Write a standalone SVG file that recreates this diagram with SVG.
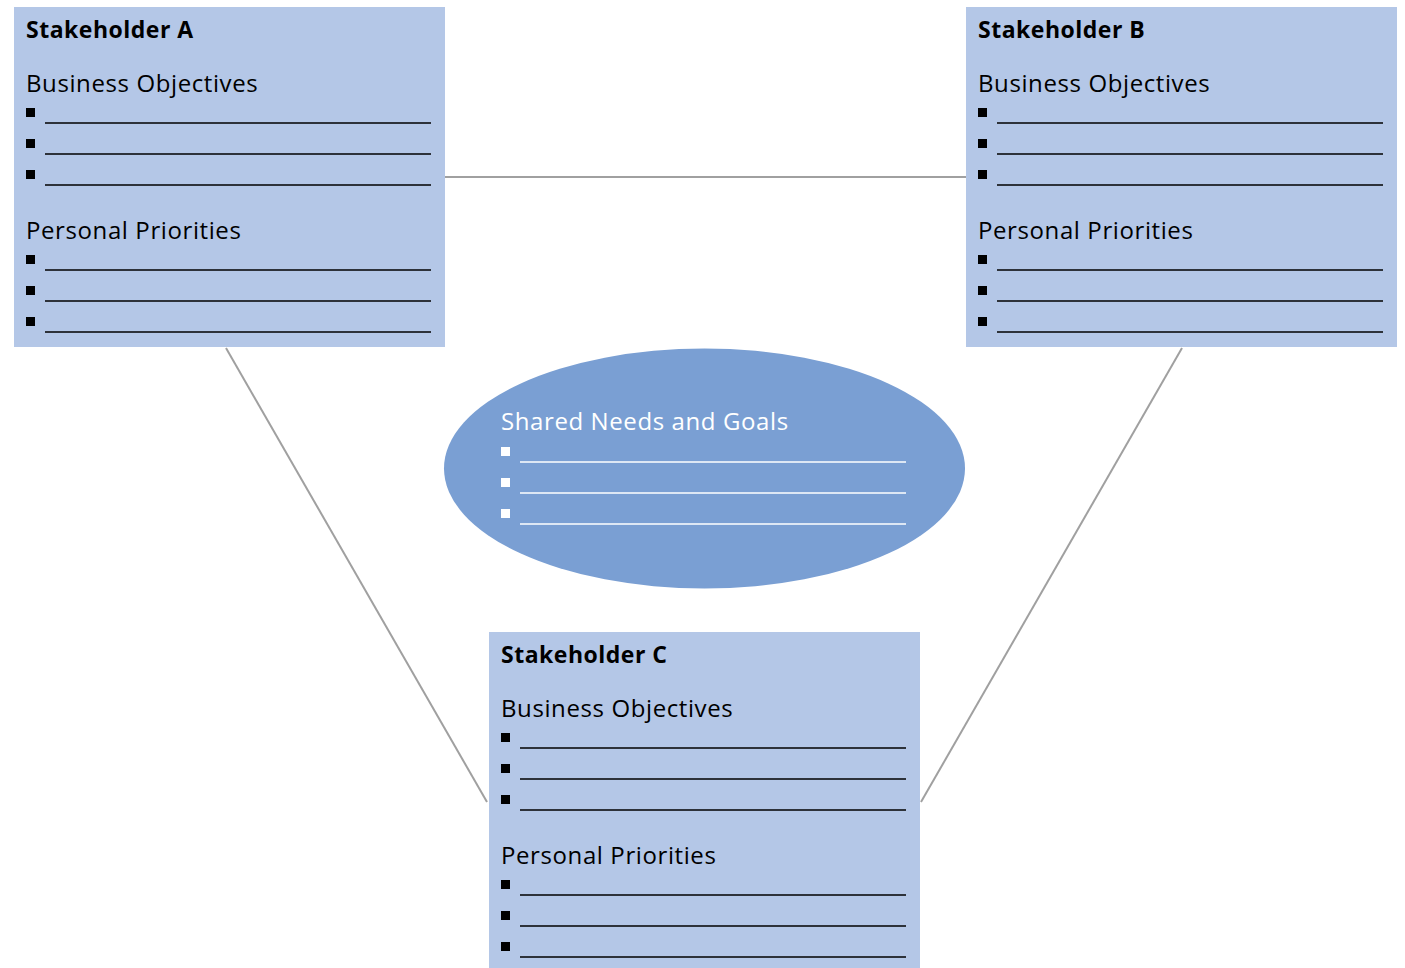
<svg xmlns="http://www.w3.org/2000/svg" xmlns:xlink="http://www.w3.org/1999/xlink" width="1405" height="968" viewBox="0 0 1405 968">
<style>
.box{fill:#B4C7E7}
.title{font-family:"Open Sans","Liberation Sans",sans-serif;font-weight:bold;font-size:23px;letter-spacing:0.5px;fill:#000}
.head{font-family:"Open Sans","Liberation Sans",sans-serif;font-size:24px;letter-spacing:0.6px;fill:#000}
.headw{font-family:"Open Sans","Liberation Sans",sans-serif;font-size:24px;letter-spacing:0.6px;fill:#fff}
.bl{fill:#000}
.ln{stroke:#000;stroke-width:1.3}
.blw{fill:#fff}
.lnw{stroke:#fff;stroke-width:1.3}
.conn{stroke:#A0A0A0;stroke-width:2;fill:none}
</style>
<defs>
<g id="list3">
<rect class="bl" x="0" y="0" width="9" height="9"/>
<rect class="bl" x="0" y="31" width="9" height="9"/>
<rect class="bl" x="0" y="62" width="9" height="9"/>
<line class="ln" x1="19" y1="15" x2="405" y2="15"/>
<line class="ln" x1="19" y1="46" x2="405" y2="46"/>
<line class="ln" x1="19" y1="77" x2="405" y2="77"/>
</g>
<g id="list3w">
<rect class="blw" x="0" y="0" width="9" height="9"/>
<rect class="blw" x="0" y="31" width="9" height="9"/>
<rect class="blw" x="0" y="62" width="9" height="9"/>
<line class="lnw" x1="19" y1="15" x2="405" y2="15"/>
<line class="lnw" x1="19" y1="46" x2="405" y2="46"/>
<line class="lnw" x1="19" y1="77" x2="405" y2="77"/>
</g>
</defs>
<g id="connectors">
<line class="conn" x1="445" y1="177" x2="966" y2="177"/>
<line class="conn" x1="226" y1="348" x2="487" y2="802"/>
<line class="conn" x1="1182" y1="348" x2="921" y2="802"/>
</g>
<g id="stakeholder-a">
<rect class="box" x="14" y="7" width="431" height="340"/>
<text class="title" x="26" y="38">Stakeholder A</text>
<text class="head" x="26" y="92">Business Objectives</text>
<use xlink:href="#list3" x="26" y="108"/>
<text class="head" x="26" y="239">Personal Priorities</text>
<use xlink:href="#list3" x="26" y="255"/>
</g>
<g id="stakeholder-b">
<rect class="box" x="966" y="7" width="431" height="340"/>
<text class="title" x="978" y="38">Stakeholder B</text>
<text class="head" x="978" y="92">Business Objectives</text>
<use xlink:href="#list3" x="978" y="108"/>
<text class="head" x="978" y="239">Personal Priorities</text>
<use xlink:href="#list3" x="978" y="255"/>
</g>
<g id="shared">
<ellipse cx="704.5" cy="468.5" rx="260.5" ry="120" fill="#7A9FD3"/>
<text class="headw" x="501" y="430">Shared Needs and Goals</text>
<use xlink:href="#list3w" x="501" y="447"/>
</g>
<g id="stakeholder-c">
<rect class="box" x="489" y="632" width="431" height="336"/>
<text class="title" x="501" y="663">Stakeholder C</text>
<text class="head" x="501" y="717">Business Objectives</text>
<use xlink:href="#list3" x="501" y="733"/>
<text class="head" x="501" y="864">Personal Priorities</text>
<use xlink:href="#list3" x="501" y="880"/>
</g>
</svg>
